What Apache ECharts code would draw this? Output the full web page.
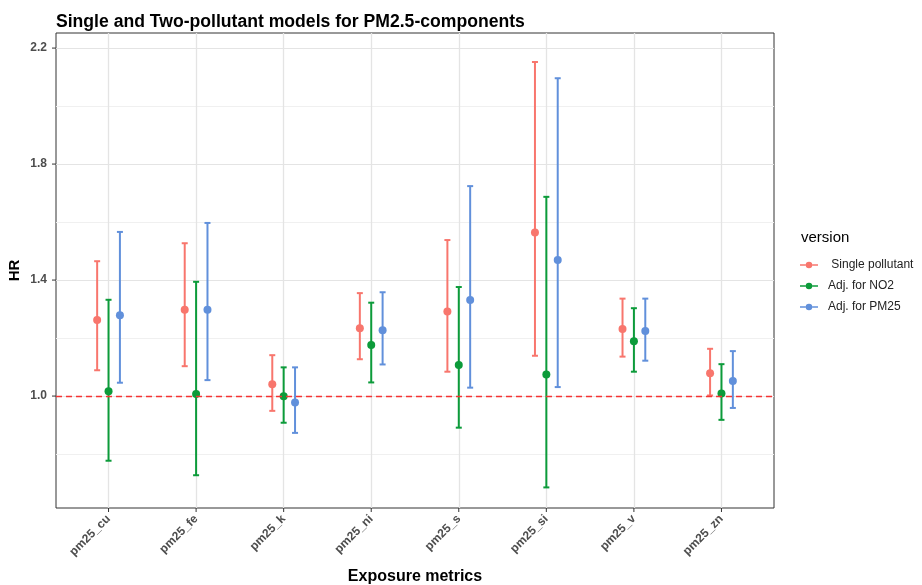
<!DOCTYPE html>
<html>
<head>
<meta charset="utf-8">
<script src="https://cdn.jsdelivr.net/npm/echarts@6/dist/echarts.min.js"></script>
<style>
  html, body { margin: 0; background: #fff; }
  #chart { width: 922px; height: 585px; }
</style>
</head>
<body>
<div id="chart"></div>
<script>
const categories = ["pm25_cu", "pm25_fe", "pm25_k", "pm25_ni", "pm25_s", "pm25_si", "pm25_v", "pm25_zn"];
const versions = [" Single pollutant", "Adj. for NO2", "Adj. for PM25"];

// hazard ratios + 95% CI
const hrSingle   = [1.262, 1.298, 1.041, 1.234, 1.292, 1.564, 1.231, 1.079];
const lowSingle  = [1.089, 1.103, 0.949, 1.127, 1.084, 1.139, 1.136, 1.002];
const highSingle = [1.465, 1.527, 1.141, 1.355, 1.538, 2.152, 1.336, 1.163];

const hrNO2   = [1.017, 1.007, 0.999, 1.176, 1.107, 1.074, 1.189, 1.009];
const lowNO2  = [0.777, 0.727, 0.908, 1.047, 0.891, 0.685, 1.084, 0.918];
const highNO2 = [1.332, 1.394, 1.099, 1.322, 1.376, 1.687, 1.303, 1.110];

const hrPM25   = [1.279, 1.298, 0.978, 1.227, 1.331, 1.469, 1.224, 1.052];
const lowPM25  = [1.046, 1.055, 0.873, 1.109, 1.029, 1.031, 1.122, 0.959];
const highPM25 = [1.566, 1.597, 1.099, 1.358, 1.724, 2.096, 1.336, 1.155];

const yMajorTicks = [1.0, 1.4, 1.8, 2.2];
const refHR = 1.0;

const colors = ["#F8766D", "#0C9B3A", "#6190DB"];
const dodge = [-0.13, 0, 0.13];
const xMin = -0.6, xMax = 7.6, yMin = 0.614, yMax = 2.252;

const legendIcon = "path://M0,4H7V6H0Z M15,4H22V6H15Z M7,5A4,4 0 1,1 15,5A4,4 0 1,1 7,5Z";

function toRows(hr, low, high) {
  return categories.map((c, i) => [i, hr[i], low[i], high[i]]);
}

// 误差线 + 点
function errorBarItem(offset) {
  return function (params, api) {
    const x = api.value(0) + offset;
    const mid = api.coord([x, api.value(1)]);
    const lo = api.coord([x, api.value(2)]);
    const hi = api.coord([x, api.value(3)]);
    const color = api.visual("color");
    const cap = 3;
    const st = { stroke: color, lineWidth: 2 };
    return {
      type: "group",
      children: [
        { type: "line", shape: { x1: mid[0], y1: lo[1], x2: mid[0], y2: hi[1] }, style: st },
        { type: "line", shape: { x1: mid[0] - cap, y1: hi[1], x2: mid[0] + cap, y2: hi[1] }, style: st },
        { type: "line", shape: { x1: mid[0] - cap, y1: lo[1], x2: mid[0] + cap, y2: lo[1] }, style: st },
        { type: "circle", shape: { cx: mid[0], cy: mid[1], r: 4 }, style: { fill: color } },
      ],
    };
  };
}

const seriesRows = [
  toRows(hrSingle, lowSingle, highSingle),
  toRows(hrNO2, lowNO2, highNO2),
  toRows(hrPM25, lowPM25, highPM25),
];

const chart = echarts.init(document.getElementById("chart"));

const option = {
  animation: false,
  backgroundColor: "#fff",
  title: [
    {
      text: "Single and Two-pollutant models for PM2.5-components",
      left: 51,
      top: 8,
      textStyle: { fontFamily: "Liberation Sans", fontSize: 17.6, fontWeight: "bold", color: "#000" },
    },
    {
      text: "version",
      left: 796,
      top: 225,
      textStyle: { fontFamily: "Liberation Sans", fontSize: 15, fontWeight: "normal", color: "#000" },
    },
  ],
  legend: {
    data: versions.map((v) => ({ name: v, icon: legendIcon })),
    orient: "vertical",
    left: 795,
    top: 254,
    itemWidth: 18,
    itemHeight: 8,
    itemGap: 9,
    itemStyle: { borderWidth: 0 },
    textStyle: { fontFamily: "Liberation Sans", fontSize: 12, color: "#222", padding: [0, 0, 0, 5] },
  },
  grid: {
    left: 56,
    right: 148,
    top: 33,
    bottom: 77,
    outerBoundsMode: "none",
    show: true,
    borderColor: "#333",
    borderWidth: 1,
    backgroundColor: "#fff",
  },
  xAxis: {
    type: "value",
    min: xMin,
    max: xMax,
    splitNumber: 8,
    name: "Exposure metrics",
    nameLocation: "middle",
    nameGap: 61,
    nameMoveOverlap: false,
    nameTextStyle: { fontFamily: "Liberation Sans", fontSize: 16, fontWeight: "bold", color: "#000" },
    axisLine: { show: false },
    axisTick: { show: false },
    axisLabel: {
      rotate: 45,
      margin: 9,
      fontFamily: "Liberation Sans",
      fontSize: 12,
      fontWeight: "bold",
      color: "#4d4d4d",
      formatter: (v) => (Number.isInteger(v) && categories[v] ? categories[v] : ""),
    },
    splitLine: { show: true, showMinLine: false, showMaxLine: false, lineStyle: { color: "#e4e4e4", width: 1.3 } },
  },
  yAxis: {
    type: "value",
    min: yMin,
    max: yMax,
    splitNumber: 8,
    name: "HR",
    nameLocation: "middle",
    nameGap: 34,
    nameMoveOverlap: false,
    nameRotate: 90,
    nameTextStyle: { fontFamily: "Liberation Sans", fontSize: 15, fontWeight: "bold", color: "#000" },
    axisLine: { show: false },
    axisTick: { show: false },
    axisLabel: {
      margin: 9,
      fontFamily: "Liberation Sans",
      fontSize: 12,
      fontWeight: "bold",
      color: "#4d4d4d",
      formatter: (v) => (yMajorTicks.some((t) => Math.abs(t - v) < 1e-6) ? v.toFixed(1) : ""),
    },
    splitLine: {
      show: true,
      showMinLine: false,
      showMaxLine: false,
      lineStyle: { color: ["#f0f0f0", "#e4e4e4"], width: 1.2 },
    },
  },
  series: [
    {
      type: "line",
      data: [],
      silent: true,
      z: 1,
      markLine: {
        silent: true,
        symbol: "none",
        label: { show: false },
        lineStyle: { color: "#f53333", type: [6, 4], width: 1.4 },
        data: [{ yAxis: refHR }],
      },
    },
    // 坐标轴小刻度
    {
      type: "custom",
      silent: true,
      clip: false,
      data: yMajorTicks.map((v) => [xMin, v]),
      renderItem: (params, api) => {
        const p = api.coord([api.value(0), api.value(1)]);
        return { type: "line", shape: { x1: p[0] - 4, y1: p[1], x2: p[0], y2: p[1] }, style: { stroke: "#333", lineWidth: 1 } };
      },
    },
    {
      type: "custom",
      silent: true,
      clip: false,
      data: categories.map((c, i) => [i, yMin]),
      renderItem: (params, api) => {
        const p = api.coord([api.value(0), api.value(1)]);
        return { type: "line", shape: { x1: p[0], y1: p[1], x2: p[0], y2: p[1] + 4 }, style: { stroke: "#333", lineWidth: 1 } };
      },
    },
  ].concat(
    versions.map((name, k) => ({
      name: name,
      type: "custom",
      z: 3,
      itemStyle: { color: colors[k] },
      encode: { x: 0, y: [1, 2, 3] },
      data: seriesRows[k],
      renderItem: errorBarItem(dodge[k]),
    }))
  ),
};

chart.setOption(option);
</script>
</body>
</html>
